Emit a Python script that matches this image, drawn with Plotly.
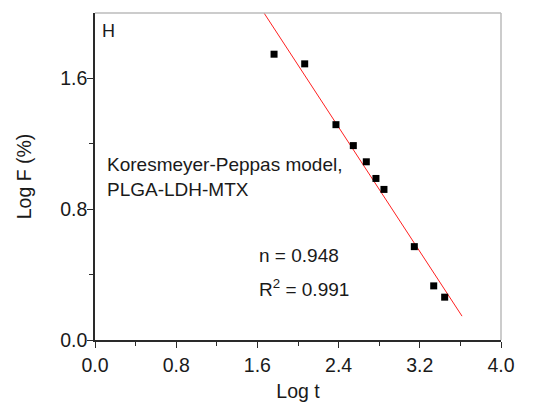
import plotly.graph_objects as go

log_t = [1.764, 2.066, 2.374, 2.545, 2.673, 2.768, 2.847, 3.146, 3.337, 3.445]
log_f = [1.748, 1.689, 1.317, 1.189, 1.090, 0.988, 0.921, 0.571, 0.331, 0.262]

fit_x = [1.60, 3.616]
fit_y = [2.062, 0.146]

x_ticks = [0.0, 0.8, 1.6, 2.4, 3.2, 4.0]
y_ticks = [0.0, 0.8, 1.6]

FONT = "Liberation Sans, Arial, sans-serif"
TXT = "#1a1a1a"

fig = go.Figure()
fig.add_trace(go.Scatter(x=fit_x, y=fit_y, mode="lines",
                         line=dict(color="#ff2020", width=1), showlegend=False))
fig.add_trace(go.Scatter(x=log_t, y=log_f, mode="markers",
                         marker=dict(symbol="square", size=7, color="black"),
                         showlegend=False))

axis_common = dict(showgrid=False, zeroline=False, showline=True, linecolor="#2a2a2a",
                   linewidth=1.5, ticks="outside", ticklen=6, tickwidth=1.2, automargin=False,
                   tickcolor="#2a2a2a", tickfont=dict(family=FONT, size=19.5, color=TXT),
                   minor=dict(ticks="outside", ticklen=4, tickwidth=1.2, tickcolor="#2a2a2a"))

fig.update_xaxes(range=[0, 4.0], tickvals=x_ticks, ticktext=[f"{v:.1f}" for v in x_ticks],
                 minor_tickvals=[0.4, 1.2, 2.0, 2.8, 3.6], ticklabelstandoff=1,
                 title=dict(text="Log t", font=dict(family=FONT, size=19.5, color=TXT), standoff=9),
                 **axis_common)
fig.update_yaxes(range=[0, 2.0], tickvals=y_ticks, ticktext=[f"{v:.1f}" for v in y_ticks],
                 minor_tickvals=[0.4, 1.2], ticklabelstandoff=-4,
                 title=dict(text="Log F (%)", font=dict(family=FONT, size=19.5, color=TXT), standoff=23),
                 **axis_common)

# top and right frame (light gray)
fig.add_shape(type="line", xref="paper", yref="paper", x0=0, x1=1, y0=1, y1=1,
              line=dict(color="#bbbbbb", width=1.5))
fig.add_shape(type="line", xref="paper", yref="paper", x0=1, x1=1, y0=0, y1=1,
              line=dict(color="#bbbbbb", width=1.5))

tf = dict(family=FONT, size=19, color=TXT)
fig.add_annotation(x=0.05, y=1.89, xref="x", yref="y", text="H", showarrow=False,
                   xanchor="left", yanchor="middle", font=dict(family=FONT, size=18, color=TXT))
fig.add_annotation(x=0.1, y=1.0, xref="x", yref="y",
                   text="Koresmeyer-Peppas model,<br>PLGA-LDH-MTX", showarrow=False,
                   xanchor="left", yanchor="middle", align="left", font=tf)
fig.add_annotation(x=1.6, y=0.514, xref="x", yref="y", text="n = 0.948", showarrow=False,
                   xanchor="left", yanchor="middle", font=tf)
fig.add_annotation(x=1.6, y=0.32, xref="x", yref="y", text="R<sup>2</sup> = 0.991", showarrow=False,
                   xanchor="left", yanchor="middle", font=tf)

fig.update_layout(width=535, height=402, margin=dict(l=95, r=34, t=13, b=62),
                  plot_bgcolor="white", paper_bgcolor="white",
                  font=dict(family=FONT, size=18))

fig.write_html("out.html")
